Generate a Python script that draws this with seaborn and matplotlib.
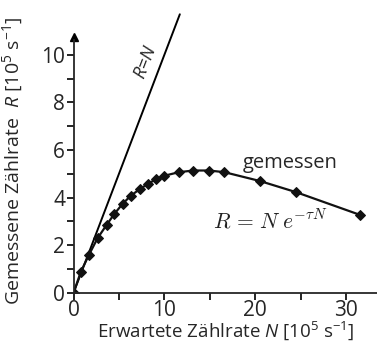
import numpy as np
import pandas as pd
import matplotlib
matplotlib.use("Agg")
import matplotlib.pyplot as plt
import seaborn as sns

# Measured count rates (units of 10^5 s^-1)
expected_N = [0.0, 0.8, 1.7, 2.65, 3.65, 4.5, 5.4, 6.3, 7.3, 8.2, 9.1, 10.0,
              11.6, 13.2, 14.9, 16.6, 20.5, 24.5, 31.5]
measured_R = [0.0, 0.88, 1.6, 2.3, 2.86, 3.32, 3.74, 4.08, 4.36, 4.58, 4.78, 4.92,
              5.07, 5.14, 5.14, 5.07, 4.7, 4.23, 3.28]

# Ideal detector line R = N
ideal_N = [0.0, 11.7]
ideal_R = [0.0, 11.7]

x_major = [0, 10, 20, 30]
x_minor = [5, 15, 25]
y_major = [0, 2, 4, 6, 8, 10]
y_minor = [1, 3, 5, 7, 9]

sns.set_style("ticks")
plt.rcParams["font.family"] = ["Open Sans", "DejaVu Sans"]
plt.rcParams["mathtext.fontset"] = "custom"
plt.rcParams["mathtext.rm"] = "Open Sans"
plt.rcParams["mathtext.it"] = "Open Sans:italic"

fig = plt.figure(figsize=(3.77, 3.45), dpi=100)
ax = fig.add_axes([0.195, 0.151, 0.805, 0.849])

df = pd.DataFrame({"N": expected_N, "R": measured_R})
ideal = pd.DataFrame({"N": ideal_N, "R": ideal_R})

sns.lineplot(data=ideal, x="N", y="R", ax=ax, color="black", lw=1.4)
sns.lineplot(data=df, x="N", y="R", ax=ax, color="#111111", lw=1.6,
             marker="D", markersize=4.8, markeredgecolor="#111111")

ax.set_xlim(0, 33.4)
ax.set_ylim(0, 12.3)
ax.set_xticks(x_major)
ax.set_xticks(x_minor, minor=True)
ax.set_yticks(y_major)
ax.set_yticks(y_minor, minor=True)
ax.tick_params(axis="both", which="both", direction="out", length=5, width=1.2,
               color="black", labelsize=15, pad=1)
ax.tick_params(axis="x", which="major", pad=0)
for sp in ["top", "right"]:
    ax.spines[sp].set_visible(False)
ax.spines["left"].set_linewidth(1.3)
ax.spines["bottom"].set_linewidth(1.3)
ax.spines["left"].set_bounds(0, 10.6)
ax.plot([0], [10.75], marker="^", color="black", markersize=6, clip_on=False)

ax.set_xlabel(r"Erwartete Zählrate $N$ [10$^5$ s$^{-1}$]", fontsize=13.5, labelpad=-1)
ax.set_ylabel(r"Gemessene Zählrate  $R$ [10$^5$ s$^{-1}$]", fontsize=14)
ax.yaxis.set_label_coords(-0.16, 0.45)

ax.text(8.0, 9.7, r"$R$=$N$", rotation=69, fontsize=13, ha="center", va="center")
ax.text(23.8, 5.45, "gemessen", fontsize=14.5, ha="center", va="center")
ax.text(21.6, 3.0, r"$R\, =\, N\; e^{-\tau N}$", fontsize=15.5, ha="center", va="center",
        math_fontfamily="cm", color="#222222")

fig.savefig("out.png", dpi=100)
